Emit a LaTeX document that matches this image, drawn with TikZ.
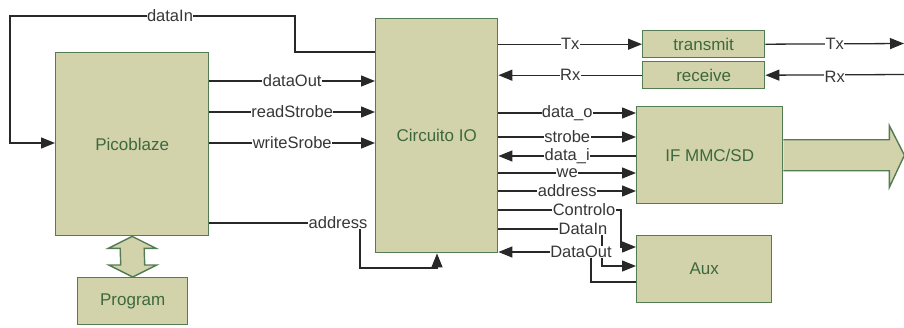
\documentclass[tikz,border=0pt]{standalone}
\usepackage{fontspec}
\setmainfont{Liberation Sans}
\usetikzlibrary{calc,arrows.meta}

\begin{document}
\begin{tikzpicture}[x=1pt, y=-1pt,
		blk/.style={draw=boxline, fill=boxfill, line width=1.4pt, text=boxtext, anchor=north west, inner sep=0pt, font=\fontsize{17}{19}\selectfont},
		wire/.style={draw=wirecol, line width=1.3pt},
		sigR/.style={wire, -{Triangle[length=14pt,width=11pt]}},
		sigL/.style={wire, {Triangle[length=14pt,width=11pt]}-},
		lbl/.style={fill=white, inner sep=0.4pt, text=lblcol, font=\fontsize{16.5}{18}\selectfont}
		]
		
		% ==========================================
		% COLOURS
		% ==========================================
		\definecolor{boxfill}{RGB}{210,211,170}
		\definecolor{boxline}{RGB}{84,124,84}
		\definecolor{boxtext}{RGB}{62,104,62}
		\definecolor{wirecol}{RGB}{40,40,40}
		\definecolor{lblcol}{RGB}{55,55,55}
		
		\useasboundingbox (0,0) rectangle (904,327);
		
		% ==========================================
		% BLOCKS
		% ==========================================
		\node[blk, minimum width=153pt, minimum height=183pt] (pico) at (55,52) {Picoblaze};
		\node[blk, minimum width=110pt, minimum height=47pt] (prog) at (77,277) {Program};
		\node[blk, minimum width=122pt, minimum height=234pt] (cio) at (375,18) {Circuito IO};
		\node[blk, minimum width=122pt, minimum height=27pt] (tx) at (642,30) {transmit};
		\node[blk, minimum width=122pt, minimum height=27pt] (rx) at (642,61) {receive};
		\node[blk, minimum width=146pt, minimum height=97pt] (mmc) at (636,106) {IF MMC/SD};
		\node[blk, minimum width=135pt, minimum height=67pt] (aux) at (636,235) {Aux};
		
		% Double arrow between Picoblaze and Program
		\draw[draw=boxline, fill=boxfill, line width=1.4pt] (pico.south)
			-- ($(pico.south)+(24,12)$) -- ($(pico.south)+(12,12)$)
			-- ($(prog.north)+(12,-12)$) -- ($(prog.north)+(24,-12)$)
			-- (prog.north) -- ($(prog.north)+(-24,-12)$) -- ($(prog.north)+(-12,-12)$)
			-- ($(pico.south)+(-12,12)$) -- ($(pico.south)+(-24,12)$) -- cycle;
		
		% Wide output arrow of the card interface
		\draw[draw=boxline, fill=boxfill, line width=1.4pt] ($(mmc.east)+(0,-15.5)$)
			-- ++(106,0) -- ++(0,-14) -- ($(mmc.east)+(121,0)$) -- ($(mmc.east)+(106,32)$)
			-- ++(0,-16.5) -- ($(mmc.east)+(0,15.5)$);
		
		% ==========================================
		% PICOBLAZE <-> CIRCUITO IO
		% ==========================================
		\draw[sigR] ([yshift=-34pt]cio.north west) -| (295,16) -| (10,143) -- (pico.west |- 0,143);
		\node[lbl] (lDataIn) at (170,16) {dataIn};
		
		\foreach \y/\t in {81/dataOut, 112/readStrobe, 143/writeSrobe} {
			\draw[sigR] (pico.east |- 0,\y) -- (cio.west |- 0,\y) node[lbl, midway] {\t};
		}
		
		\draw[sigR] (pico.east |- 0,223) -- (360,223) |- (437,268) -- (cio.south -| 437,0);
		\node[lbl] (lAddr) at (338,223) {address};
		
		% ==========================================
		% SERIAL LINK
		% ==========================================
		\coordinate (txout) at (904,43.5);
		\coordinate (rxin) at (904,74.5);
		\draw[sigR] (cio.east |- tx.west) -- (tx.west) node[lbl, midway] {Tx};
		\draw[sigL] (cio.east |- rx.west) -- (rx.west) node[lbl, midway] {Rx};
		\draw[sigR] (tx.east) -- (txout) node[lbl, midway] {Tx};
		\draw[sigL] (rx.east) -- (rxin) node[lbl, midway, yshift=-2pt] {Rx};
		
		% ==========================================
		% CARD INTERFACE SIGNALS
		% ==========================================
		\foreach \y/\t/\d in {113/data\_o/sigR, 137/strobe/sigR, 156/data\_i/sigL, 173/we/sigR, 191/address/sigR} {
			\draw[\d] (cio.east |- 0,\y) -- (mmc.west |- 0,\y) node[lbl, midway] {\t};
		}
		
		% ==========================================
		% AUX SIGNALS
		% ==========================================
		\draw[sigR] (cio.east |- 0,210) -| (621,247) -- (aux.west |- 0,247);
		\draw[sigR] (cio.east |- 0,229) -| (602,266) -- (aux.west |- 0,266);
		\draw[sigL] (cio.east |- 0,252) -- (591,252) |- (aux.west |- 0,282);
		\node[lbl] (lCtrl) at (584,210) {Controlo};
		\node[lbl] (lDIn) at (583,229) {DataIn};
		\node[lbl] (lDOut) at (581,252) {DataOut};
		
	\end{tikzpicture}
\end{document}
